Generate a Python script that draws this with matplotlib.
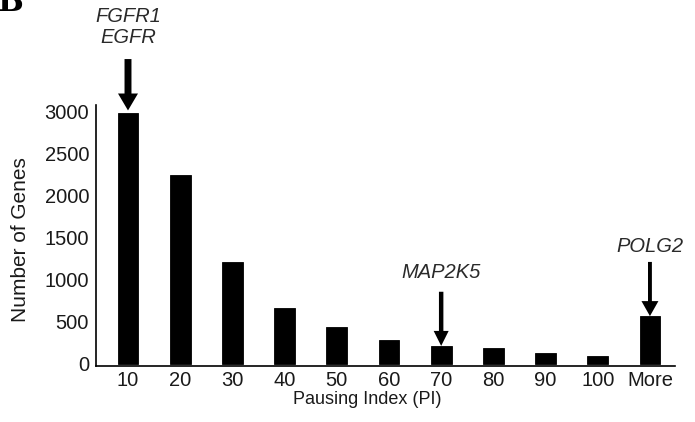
import matplotlib
matplotlib.use('Agg')
import matplotlib.pyplot as plt

plt.rcParams['font.family'] = ['Liberation Sans', 'DejaVu Sans']
INK = '#1a1a1a'

# pausing index bins and gene counts
bins = ['10', '20', '30', '40', '50', '60', '70', '80', '90', '100', 'More']
counts = [2985, 2250, 1215, 670, 445, 285, 215, 195, 128, 92, 570]
yticks = [0, 500, 1000, 1500, 2000, 2500, 3000]

# genes called out above particular bins
callouts = [('FGFR1\nEGFR', '10'), ('MAP2K5', '70'), ('POLG2', 'More')]

fig = plt.figure(figsize=(6.95, 4.22), dpi=100)
ax = fig.add_axes([96/695, (422-366)/422, (675-96)/695, (366-105)/422])

x = list(range(len(bins)))
ax.bar(x, counts, width=0.4, color='black', edgecolor='black', lw=0.6)

ax.set_xlim(-0.613, 10.48)
ax.set_ylim(-24, 3083)
ax.set_xticks(x)
ax.set_xticklabels(bins)
ax.set_yticks(yticks)
ax.tick_params(length=0, labelsize=14.5, colors=INK)
ax.tick_params(axis='y', pad=5)
ax.tick_params(axis='x', pad=3.5)
for s in ('top', 'right'):
    ax.spines[s].set_visible(False)
for s in ('left', 'bottom'):
    ax.spines[s].set_linewidth(1.2)
    ax.spines[s].set_color('black')

ax.set_xlabel('Pausing Index (PI)', fontsize=13, color=INK)
ax.xaxis.set_label_coords(0.468, -0.095)
ax.set_ylabel('Number of Genes', fontsize=15, color=INK)
ax.yaxis.set_label_coords(-0.114, 0.483)

# arrows: (shaft px, head width px, head length px, length pt, gap pt, text offset pt)
arrow_style = {
    '10': (7, 20, 17, 37, 2, 62),
    '70': (4.5, 15, 15, 39, 0, 53),
    'More': (4, 17, 15, 39, 0, 50),
}
for label, b in callouts:
    i = bins.index(b)
    v = counts[i]
    shaft, hw, hl, L, gap, toff = arrow_style[b]
    ms = 20
    ax.annotate('', xy=(i, v), xytext=(0, L + gap), textcoords='offset points',
                arrowprops=dict(arrowstyle='simple,head_length=%.2f,head_width=%.2f,tail_width=%.2f'
                                % (hl/1.389/ms, hw/1.389/ms, shaft/1.389/ms),
                                mutation_scale=ms, fc='black', ec='black', lw=0,
                                shrinkA=0, shrinkB=gap))
    ax.annotate(label, xy=(i, v), xytext=(0, toff), textcoords='offset points',
                ha='center', va='center', fontsize=14.5, style='italic',
                color='#2a2a2a', linespacing=1.1, annotation_clip=False)

# panel letter, clipped by the top edge
fig.text(-0.004, 1 - 11/422, 'B', family='DejaVu Serif', fontweight='bold',
         fontsize=22, ha='left', va='baseline', color='black')

fig.savefig('out.png', dpi=100, facecolor='white')
